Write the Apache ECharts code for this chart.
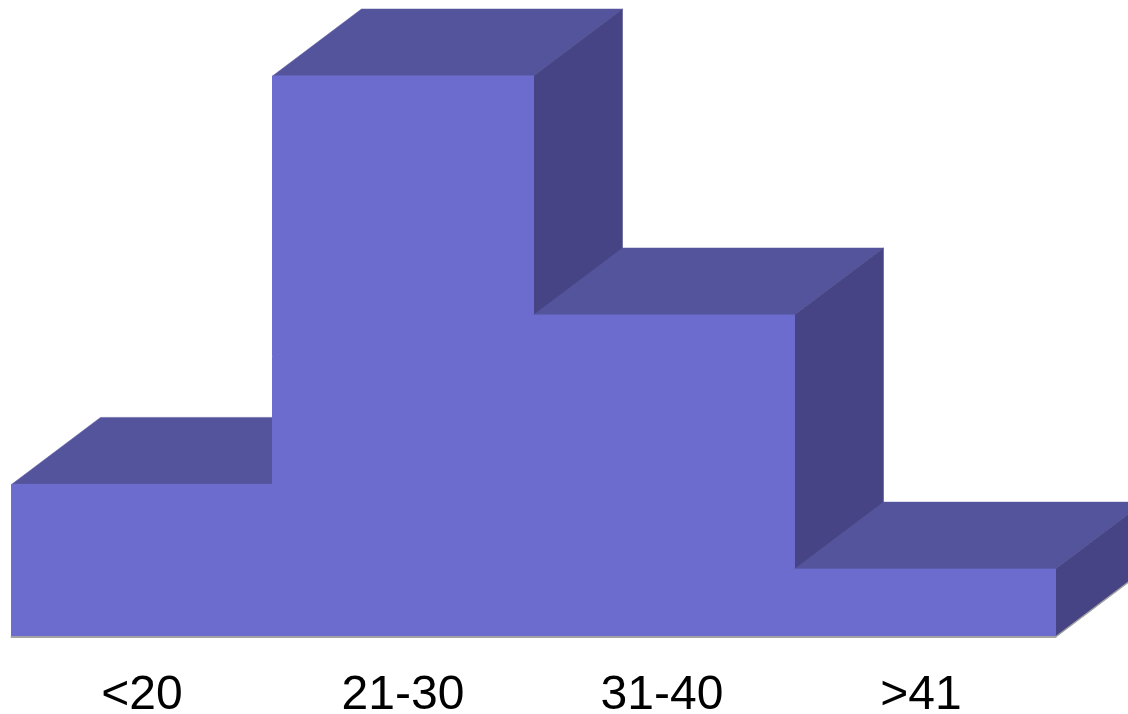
<!DOCTYPE html>
<html>
<head>
<meta charset="utf-8">
<style>html,body{margin:0;padding:0;background:#fff}#c{width:1128px;height:714px}</style>
<script src="https://cdn.jsdelivr.net/npm/echarts@6/dist/echarts.min.js"></script>
</head>
<body>
<div id="c"></div>
<script>
const categories = ['<20', '21-30', '31-40', '>41'];
const values = [13.6, 50, 28.7, 6.05];
const labelNudge = [0, 0, 4, 8];
const depthX = 89, depthY = 67;
const colors = {front: '#6C6CCE', top: '#54549C', side: '#464484', floor: '#A3A3A3'};

const chart = echarts.init(document.getElementById('c'), null, {renderer: 'canvas'});
chart.setOption({
  animation: false,
  backgroundColor: '#fff',
  grid: {left: 11.5, right: 72.5, top: 76, bottom: 77, containLabel: false, outerBoundsMode: 'none'},
  xAxis: {
    type: 'category', boundaryGap: true, z: 10,
    data: categories.map((c, i) => ({value: c, textStyle: {padding: [0, labelNudge[i], 0, 0]}})),
    axisTick: {show: false},
    axisLine: {show: true, onZero: false, lineStyle: {color: colors.floor, width: 2}},
    axisLabel: {color: '#000', fontFamily: 'Liberation Sans', fontSize: 48, margin: 35, interval: 0}
  },
  yAxis: {type: 'value', min: 0, max: 50, show: false, splitLine: {show: false}},
  series: [{
    type: 'custom',
    clip: false,
    encode: {x: 0, y: 1},
    data: values.map((v, i) => [i, v]),
    renderItem(params, api) {
      const i = api.value(0), w = api.size([1, 0])[0];
      const t = api.coord([i, api.value(1)]), b = api.coord([i, 0]);
      const l = t[0] - w / 2, r = t[0] + w / 2, y = t[1], y0 = b[1];
      const poly = (points, fill, lineWidth) => ({
        type: 'polygon', shape: {points},
        style: {fill, stroke: fill, lineWidth}
      });
      return {
        type: 'group',
        children: [
          poly([[l, y], [l + depthX, y - depthY], [r + depthX, y - depthY], [r, y]], colors.top, 0.5),
          poly([[r, y], [r + depthX, y - depthY], [r + depthX, y0 - depthY], [r, y0]], colors.side, 0.5),
          {type: 'line', shape: {x1: r, y1: y0, x2: r + depthX, y2: y0 - depthY},
           style: {stroke: colors.floor, lineWidth: 1.5}},
          poly([[l, y], [r, y], [r, y0], [l, y0]], colors.front, 1)
        ]
      };
    }
  }]
});
</script>
</body>
</html>
